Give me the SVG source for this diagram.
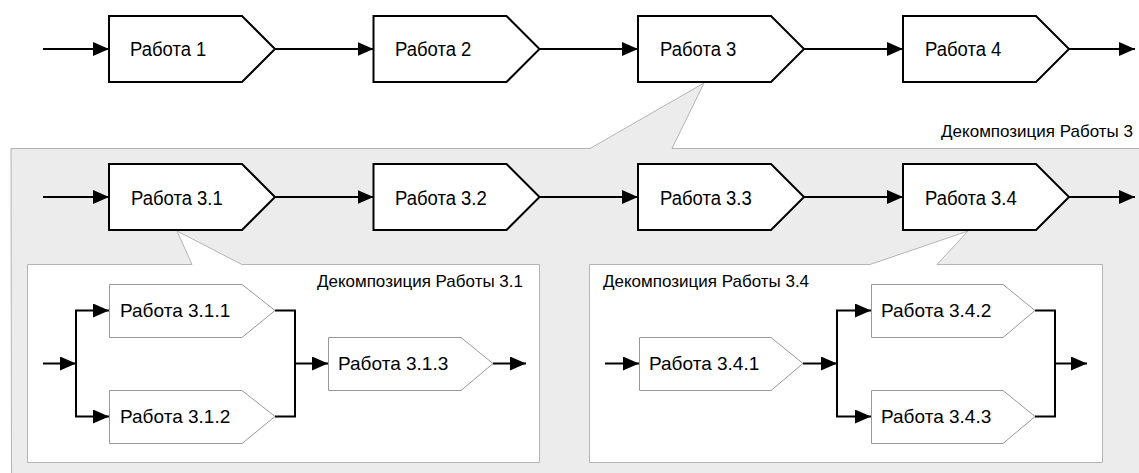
<svg xmlns="http://www.w3.org/2000/svg" width="1139" height="473" viewBox="0 0 1139 473">
  <style>
    .work { fill: #ffffff; stroke: #000000; stroke-width: 2; }
    .sub { fill: #ffffff; stroke: #999999; stroke-width: 1; }
    .panel { fill: #ffffff; stroke: #b4b4b4; stroke-width: 1; }
    .outer { fill: #ececec; stroke: #b4b4b4; stroke-width: 1; }
    .lbl { font-family: "Liberation Sans", Arial, sans-serif; font-size: 21px; fill: #000000; }
    .slbl { font-family: "Liberation Sans", Arial, sans-serif; font-size: 19px; fill: #000000; }
    .title { font-family: "Liberation Sans", Arial, sans-serif; font-size: 17px; fill: #000000; }
    .flow { fill: none; stroke: #000000; stroke-width: 2; }
    .arr { marker-end: url(#head); }
  </style>
  <defs>
    <marker id="head" markerUnits="userSpaceOnUse" markerWidth="16" markerHeight="14" refX="16" refY="7" orient="auto">
      <path d="M0,0 L16,7 L0,14 Z" fill="#000000"/>
    </marker>
  </defs>

  <rect width="1139" height="473" fill="#ffffff"/>

  <!-- Decomposition of work 3: shaded callout area -->
  <g id="decomp3">
    <path class="outer" d="M11,148.5 L590,148.5 L704,83 L672,148.5 L1140,148.5 L1140,474 L11.5,474 Z"/>
    <text class="title" x="1133" y="137" text-anchor="end">Декомпозиция Работы 3</text>
  </g>

  <!-- Decomposition panels -->
  <g id="decomp31">
    <path class="panel" d="M27.5,264.5 L192,264.5 L177,231 L242,264.5 L539.5,264.5 L539.5,462.5 L27.5,462.5 Z"/>
    <text class="title" x="523" y="287" text-anchor="end">Декомпозиция Работы 3.1</text>
  </g>
  <g id="decomp34">
    <path class="panel" d="M589.5,264.5 L870,264.5 L968,231 L937,264.5 L1102.5,264.5 L1102.5,462.5 L589.5,462.5 Z"/>
    <text class="title" x="603" y="287">Декомпозиция Работы 3.4</text>
  </g>

  <!-- Top level works -->
  <g id="work1">
    <path class="work" d="M109,16 H242 L275,49 L242,82 H109 Z"/>
    <text class="lbl" transform="translate(130,56) scale(0.88,1)">Работа 1</text>
  </g>
  <g id="work2">
    <path class="work" d="M373.5,16 H506.5 L539.5,49 L506.5,82 H373.5 Z"/>
    <text class="lbl" transform="translate(395,56) scale(0.88,1)">Работа 2</text>
  </g>
  <g id="work3">
    <path class="work" d="M638,16 H771 L804,49 L771,82 H638 Z"/>
    <text class="lbl" transform="translate(660,56) scale(0.88,1)">Работа 3</text>
  </g>
  <g id="work4">
    <path class="work" d="M903,16 H1036 L1069,49 L1036,82 H903 Z"/>
    <text class="lbl" transform="translate(925,56) scale(0.88,1)">Работа 4</text>
  </g>

  <!-- Works of level 3.x -->
  <g id="work3-1">
    <path class="work" d="M109,164 H242 L275,197 L242,230 H109 Z"/>
    <text class="lbl" transform="translate(131,205) scale(0.88,1)">Работа 3.1</text>
  </g>
  <g id="work3-2">
    <path class="work" d="M373.5,164 H506.5 L539.5,197 L506.5,230 H373.5 Z"/>
    <text class="lbl" transform="translate(395,205) scale(0.88,1)">Работа 3.2</text>
  </g>
  <g id="work3-3">
    <path class="work" d="M638,164 H771 L804,197 L771,230 H638 Z"/>
    <text class="lbl" transform="translate(660,205) scale(0.88,1)">Работа 3.3</text>
  </g>
  <g id="work3-4">
    <path class="work" d="M903,164 H1036 L1069,197 L1036,230 H903 Z"/>
    <text class="lbl" transform="translate(925,205) scale(0.88,1)">Работа 3.4</text>
  </g>

  <!-- Works of level 3.1.x -->
  <g id="work3-1-1">
    <path class="sub" d="M109.5,284.5 H242 L275,310.5 L242,337.5 H109.5 Z"/>
    <text class="slbl" x="120" y="317">Работа 3.1.1</text>
  </g>
  <g id="work3-1-2">
    <path class="sub" d="M109.5,390.5 H242 L275,416.5 L242,443.5 H109.5 Z"/>
    <text class="slbl" x="120" y="423">Работа 3.1.2</text>
  </g>
  <g id="work3-1-3">
    <path class="sub" d="M328.5,337.5 H461 L493,363.5 L461,390.5 H328.5 Z"/>
    <text class="slbl" x="338" y="370">Работа 3.1.3</text>
  </g>

  <!-- Works of level 3.4.x -->
  <g id="work3-4-1">
    <path class="sub" d="M639.5,337.5 H771 L803,363.5 L771,390.5 H639.5 Z"/>
    <text class="slbl" x="649" y="370">Работа 3.4.1</text>
  </g>
  <g id="work3-4-2">
    <path class="sub" d="M871.5,284.5 H1003 L1035,310.5 L1003,337.5 H871.5 Z"/>
    <text class="slbl" x="881" y="317">Работа 3.4.2</text>
  </g>
  <g id="work3-4-3">
    <path class="sub" d="M871.5,390.5 H1003 L1035,416.5 L1003,443.5 H871.5 Z"/>
    <text class="slbl" x="881" y="423">Работа 3.4.3</text>
  </g>

  <!-- Connectors -->
  <g id="connectors" class="flow">
    <!-- top level -->
    <path class="arr" d="M43,49 H109"/>
    <path class="arr" d="M275,49 H373.5"/>
    <path class="arr" d="M539.5,49 H638"/>
    <path class="arr" d="M804,49 H903"/>
    <path class="arr" d="M1069,49 H1135"/>
    <!-- level 3.x -->
    <path class="arr" d="M43,197 H109"/>
    <path class="arr" d="M275,197 H373.5"/>
    <path class="arr" d="M539.5,197 H638"/>
    <path class="arr" d="M804,197 H903"/>
    <path class="arr" d="M1069,197 H1135"/>
    <!-- level 3.1.x -->
    <path class="arr" d="M43,363.5 H76"/>
    <path d="M76,310.5 V416.5"/>
    <path class="arr" d="M75,310.5 H109"/>
    <path class="arr" d="M75,416.5 H109"/>
    <path d="M275,310.5 H295 V416.5 H275"/>
    <path class="arr" d="M295,363.5 H328"/>
    <path class="arr" d="M493,363.5 H526"/>
    <!-- level 3.4.x -->
    <path class="arr" d="M605,363.5 H639"/>
    <path class="arr" d="M803,363.5 H837"/>
    <path d="M837,310.5 V416.5"/>
    <path class="arr" d="M836,310.5 H871"/>
    <path class="arr" d="M836,416.5 H871"/>
    <path d="M1035,310.5 H1055 V416.5 H1035"/>
    <path class="arr" d="M1055,363.5 H1087"/>
  </g>
</svg>
